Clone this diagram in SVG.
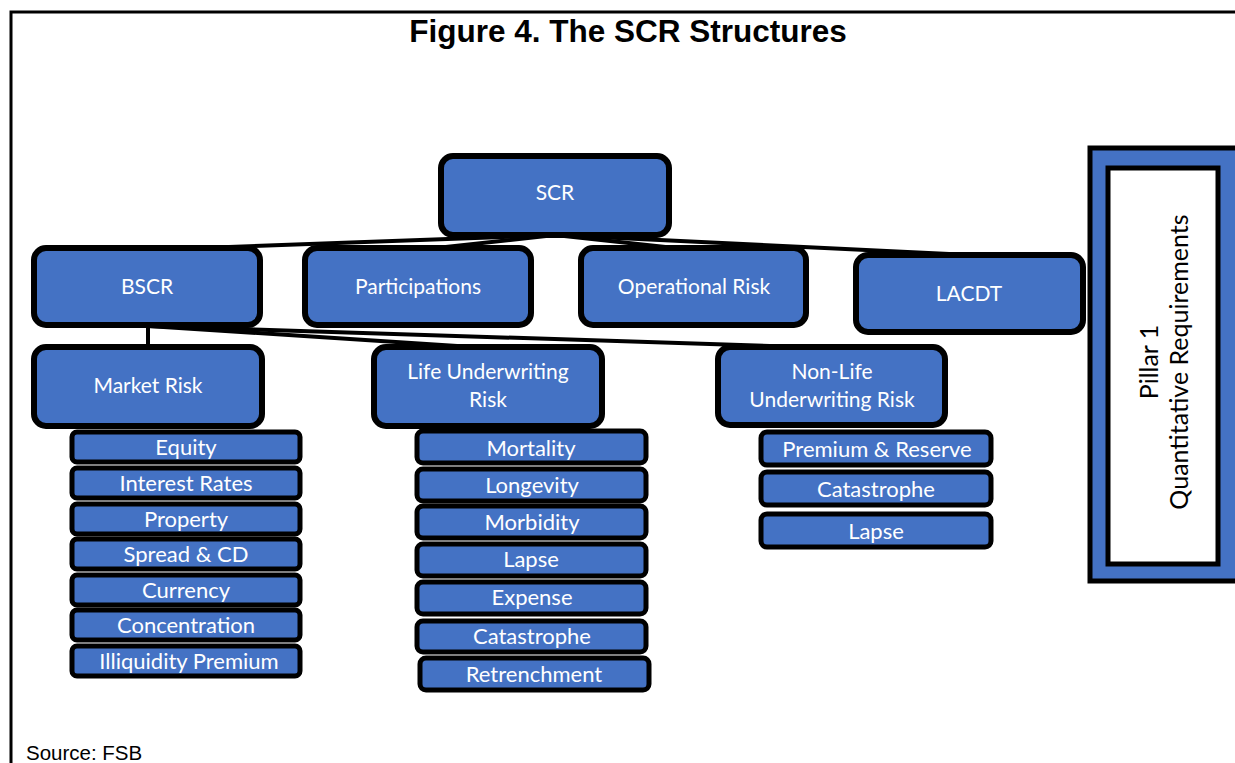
<svg xmlns="http://www.w3.org/2000/svg" width="1235" height="763" viewBox="0 0 1235 763">
  <style>
    .frame { fill: none; stroke: #000; stroke-width: 3; }
    .title { font-family: "Liberation Sans", Arial, sans-serif; font-weight: bold; font-size: 31.5px; fill: #000; }
    .source { font-family: "Liberation Sans", Arial, sans-serif; font-size: 20.5px; fill: #000; }
    .box { fill: #4472C4; stroke: #000; stroke-width: 6; }
    .sub { fill: #4472C4; stroke: #000; stroke-width: 5; }
    .lbl { font-family: Lato, "Open Sans", sans-serif; font-size: 21px; fill: #fff; text-anchor: middle; }
    .slbl { font-family: Lato, "Open Sans", sans-serif; font-size: 22px; fill: #fff; text-anchor: middle; }
    .link { stroke: #000; stroke-width: 4; fill: none; }
    .pill { font-family: Lato, "Open Sans", sans-serif; font-size: 25px; fill: #000; text-anchor: middle; }
  </style>

  <!-- page frame and captions -->
  <path class="frame" d="M11 763 V12 H1235"/>
  <text class="title" x="628" y="42" text-anchor="middle">Figure 4. The SCR Structures</text>
  <text class="source" x="26" y="760">Source: FSB</text>

  <!-- connectors -->
  <g id="connectors">
    <line class="link" x1="555" y1="235" x2="147" y2="250"/>
    <line class="link" x1="555" y1="235" x2="418" y2="250"/>
    <line class="link" x1="555" y1="235" x2="693" y2="250"/>
    <line class="link" x1="555" y1="235" x2="970" y2="255"/>
    <line class="link" x1="148" y1="324" x2="148" y2="348"/>
    <line class="link" x1="148" y1="326" x2="488" y2="348"/>
    <line class="link" x1="148" y1="326" x2="832" y2="348"/>
  </g>

  <!-- top level -->
  <g id="scr"><rect class="box" x="441" y="156" width="228" height="79" rx="12"/><text class="lbl" x="555" y="200">SCR</text></g>
  <g id="bscr"><rect class="box" x="34" y="248" width="226" height="77" rx="12"/><text class="lbl" x="147" y="294">BSCR</text></g>
  <g id="participations"><rect class="box" x="305" y="248" width="226" height="77" rx="12"/><text class="lbl" x="418" y="294">Participations</text></g>
  <g id="operational"><rect class="box" x="581" y="248" width="225" height="77" rx="12"/><text class="lbl" x="694" y="294">Operational Risk</text></g>
  <g id="lacdt"><rect class="box" x="856" y="255" width="227" height="77" rx="12"/><text class="lbl" x="969" y="301">LACDT</text></g>

  <!-- risk modules -->
  <g id="market"><rect class="box" x="34" y="347" width="228" height="79" rx="12"/><text class="lbl" x="148" y="393">Market Risk</text></g>
  <g id="life"><rect class="box" x="374" y="347" width="228" height="79" rx="12"/><text class="lbl" x="488" y="379">Life Underwriting</text><text class="lbl" x="488" y="407">Risk</text></g>
  <g id="nonlife"><rect class="box" x="718" y="347" width="227" height="78" rx="12"/><text class="lbl" x="832" y="379">Non-Life</text><text class="lbl" x="832" y="407">Underwriting Risk</text></g>

  <!-- market sub-modules -->
  <g id="equity"><rect class="sub" x="72" y="432" width="228" height="30" rx="5"/><text class="slbl" x="186" y="455">Equity</text></g>
  <g id="interest"><rect class="sub" x="72" y="468" width="228" height="30" rx="5"/><text class="slbl" x="186" y="491">Interest Rates</text></g>
  <g id="property"><rect class="sub" x="72" y="504" width="228" height="30" rx="5"/><text class="slbl" x="186" y="527">Property</text></g>
  <g id="spread"><rect class="sub" x="72" y="539" width="228" height="30" rx="5"/><text class="slbl" x="186" y="562">Spread &amp; CD</text></g>
  <g id="currency"><rect class="sub" x="72" y="575" width="228" height="30" rx="5"/><text class="slbl" x="186" y="598">Currency</text></g>
  <g id="concentration"><rect class="sub" x="72" y="610" width="228" height="30" rx="5"/><text class="slbl" x="186" y="633">Concentration</text></g>
  <g id="illiquidity"><rect class="sub" x="72" y="646" width="228" height="30" rx="5"/><text class="slbl" x="189" y="669">Illiquidity Premium</text></g>

  <!-- life sub-modules -->
  <g id="mortality"><rect class="sub" x="417" y="431" width="229" height="32" rx="6"/><text class="slbl" x="531" y="456">Mortality</text></g>
  <g id="longevity"><rect class="sub" x="417" y="469" width="229" height="32" rx="6"/><text class="slbl" x="532" y="493">Longevity</text></g>
  <g id="morbidity"><rect class="sub" x="417" y="506" width="229" height="32" rx="6"/><text class="slbl" x="532" y="530">Morbidity</text></g>
  <g id="lifelapse"><rect class="sub" x="417" y="544" width="229" height="32" rx="6"/><text class="slbl" x="531" y="567">Lapse</text></g>
  <g id="expense"><rect class="sub" x="417" y="582" width="229" height="32" rx="6"/><text class="slbl" x="532" y="605">Expense</text></g>
  <g id="lifecat"><rect class="sub" x="417" y="621" width="229" height="31" rx="6"/><text class="slbl" x="532" y="644">Catastrophe</text></g>
  <g id="retrenchment"><rect class="sub" x="420" y="658" width="229" height="32" rx="6"/><text class="slbl" x="534" y="682">Retrenchment</text></g>

  <!-- non-life sub-modules -->
  <g id="premium"><rect class="sub" x="761" y="432" width="230" height="33" rx="6"/><text class="slbl" x="877" y="457">Premium &amp; Reserve</text></g>
  <g id="nlcat"><rect class="sub" x="761" y="472" width="230" height="33" rx="6"/><text class="slbl" x="876" y="497">Catastrophe</text></g>
  <g id="nllapse"><rect class="sub" x="761" y="514" width="230" height="33" rx="6"/><text class="slbl" x="876" y="539">Lapse</text></g>

  <!-- pillar panel -->
  <g id="pillar">
    <rect x="1090" y="148" width="150" height="433" fill="#4472C4" stroke="#000" stroke-width="5"/>
    <rect x="1108" y="168" width="110" height="396" fill="#fff" stroke="#000" stroke-width="5"/>
    <g transform="translate(1163 362) rotate(-90)">
      <text class="pill" x="0" y="-5">Pillar 1</text>
      <text class="pill" x="0" y="25">Quantitative Requirements</text>
    </g>
  </g>
</svg>
